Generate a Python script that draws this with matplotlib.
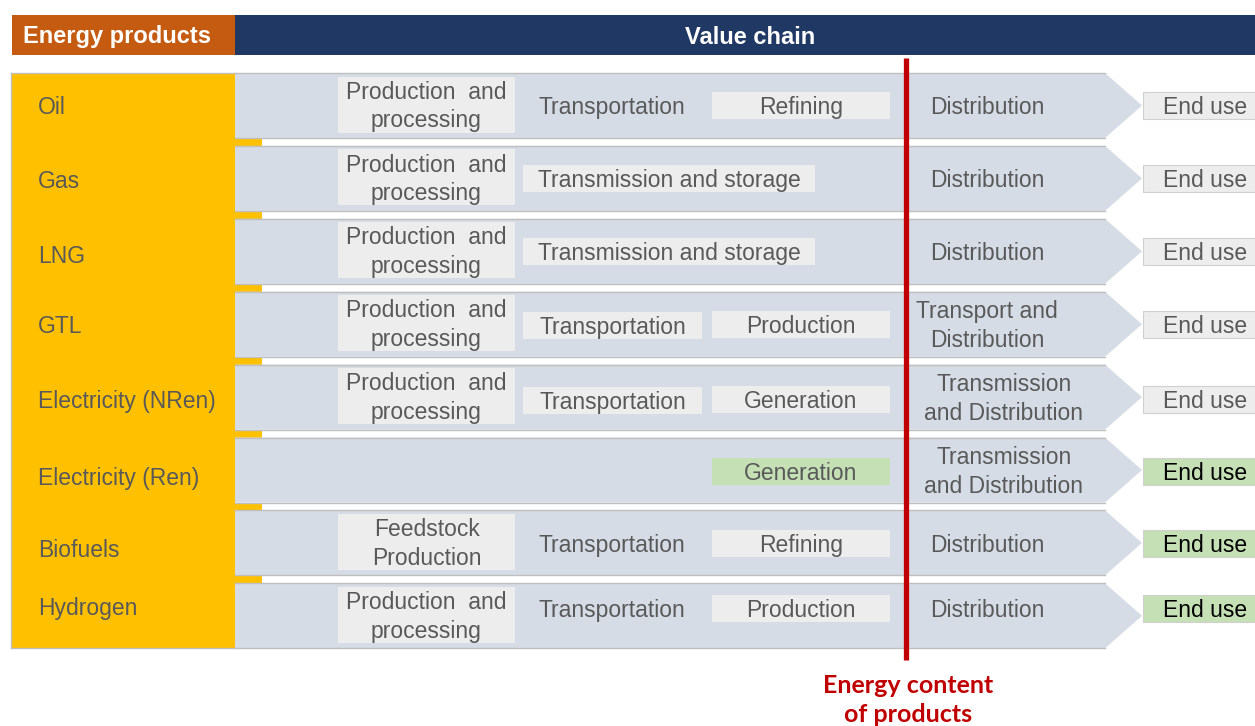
import matplotlib.pyplot as plt
from matplotlib.patches import Rectangle, Polygon

plt.rcParams['font.family'] = ['Liberation Sans', 'DejaVu Sans']

# Diagram content
products = ['Oil', 'Gas', 'LNG', 'GTL', 'Electricity (NRen)', 'Electricity (Ren)',
            'Biofuels', 'Hydrogen']
stage1 = ['Production  and\nprocessing'] * 5 + ['', 'Feedstock\nProduction',
                                               'Production  and\nprocessing']
stage2 = ['Transportation', 'Transmission and storage', 'Transmission and storage',
          'Transportation', 'Transportation', '', 'Transportation', 'Transportation']
stage2_kind = ['plain', 'wide', 'wide', 'box', 'box', '', 'plain', 'plain']
stage3 = ['Refining', '', '', 'Production', 'Generation', 'Generation', 'Refining',
          'Production']
stage3_green = [False, False, False, False, False, True, False, False]
distribution = ['Distribution', 'Distribution', 'Distribution', 'Transport and\nDistribution',
                'Transmission\nand Distribution', 'Transmission\nand Distribution',
                'Distribution', 'Distribution']
end_use_green = [False, False, False, False, False, True, True, True]
label_dy = [0, 1, 3, 0, 2, 6, 6, -9]
content_dy = [0, 0, 0, 0, 2, 1, 1, -7]

ORANGE = '#C55A11'
NAVY = '#203864'
YELLOW = '#FFC000'
ROW = '#D6DCE5'
BOX = '#EDEDED'
GREEN = '#C5E0B4'
EDGE = '#BFBFBF'
TXT = '#595959'
RED = '#C00000'
FS = 16.5
TY = 2  # small downward nudge so text sits like the original

fig = plt.figure(figsize=(12.55, 7.26), dpi=100)
ax = fig.add_axes([0, 0, 1, 1])
ax.set_xlim(0, 1255)
ax.set_ylim(726, 0)
ax.axis('off')

# header
ax.add_patch(Rectangle((12, 15), 223, 40, color=ORANGE, lw=0))
ax.add_patch(Rectangle((235, 15), 1020, 40, color=NAVY, lw=0))
ax.text(23, 37, 'Energy products', color='white', fontsize=17, fontweight='bold',
        ha='left', va='center')
ax.text(750, 37, 'Value chain', color='white', fontsize=17, fontweight='bold',
        ha='center', va='center')

top0, pitch, h = 73, 72.9, 65
bottom = top0 + 7 * pitch + h

# yellow column
ax.add_patch(Rectangle((11, top0), 224, bottom - top0, color=YELLOW, lw=0))
ax.plot([11, 11], [top0, bottom], color=EDGE, lw=1)
ax.plot([11, 235], [top0, top0], color=EDGE, lw=1)
ax.plot([11, 235], [bottom, bottom], color=EDGE, lw=1)


def box(x0, x1, yc, hh, color, text, tcolor=TXT):
    ax.add_patch(Rectangle((x0, yc - hh / 2), x1 - x0, hh, color=color, lw=0))
    if text:
        ax.text((x0 + x1) / 2, yc + TY, text, color=tcolor, fontsize=FS, ha='center',
                va='center', multialignment='center', linespacing=1.32)


for i, name in enumerate(products):
    top = top0 + i * pitch
    bot = top + h
    yc = (top + bot) / 2
    cy = yc + content_dy[i]

    # arrow
    ax.add_patch(Polygon([(235, top), (1105, top), (1142, yc), (1105, bot), (235, bot)],
                         closed=True, color=ROW, lw=0))
    ax.plot([235, 1105], [top, top], color=EDGE, lw=1)
    ax.plot([235, 1105], [bot, bot], color=EDGE, lw=1)
    if i < len(products) - 1:
        ax.add_patch(Rectangle((235, bot), 27, pitch - h, color=YELLOW, lw=0))

    ax.text(38, yc + label_dy[i] + TY, name, color=TXT, fontsize=FS, ha='left', va='center')

    if stage1[i]:
        box(338, 515, yc - 1, 56, BOX, stage1[i])

    k = stage2_kind[i]
    if k == 'plain':
        ax.text(612, cy + TY, stage2[i], color=TXT, fontsize=FS, ha='center', va='center')
    elif k == 'wide':
        box(523, 815, cy, 27, BOX, stage2[i])
    elif k == 'box':
        box(523, 702, cy + 1, 27, BOX, stage2[i])

    if stage3[i]:
        box(712, 890, cy, 27, GREEN if stage3_green[i] else BOX, stage3[i])

    d = distribution[i]
    dx = 1004 if d.startswith('Transmission') else 987
    ax.text(dx, (yc if '\n' in d else cy) + TY, d, color=TXT, fontsize=FS, ha='center',
            va='center', multialignment='center', linespacing=1.32)

    g = end_use_green[i]
    ax.add_patch(Rectangle((1143, cy - 13.5), 120, 27, facecolor=GREEN if g else BOX,
                           edgecolor='#D0D0D0', lw=0.8))
    ax.text(1205, cy + TY, 'End use', color='black' if g else TXT, fontsize=FS,
            ha='center', va='center')

# energy content marker
ax.plot([906, 906], [58, 660], color=RED, lw=3.8, solid_capstyle='butt')
ax.text(908, 700, 'Energy content\nof products', color=RED, fontsize=18,
        fontweight='bold', family=['Lato', 'DejaVu Sans'], ha='center', va='center',
        linespacing=1.3)

fig.savefig('out.png', dpi=100)
